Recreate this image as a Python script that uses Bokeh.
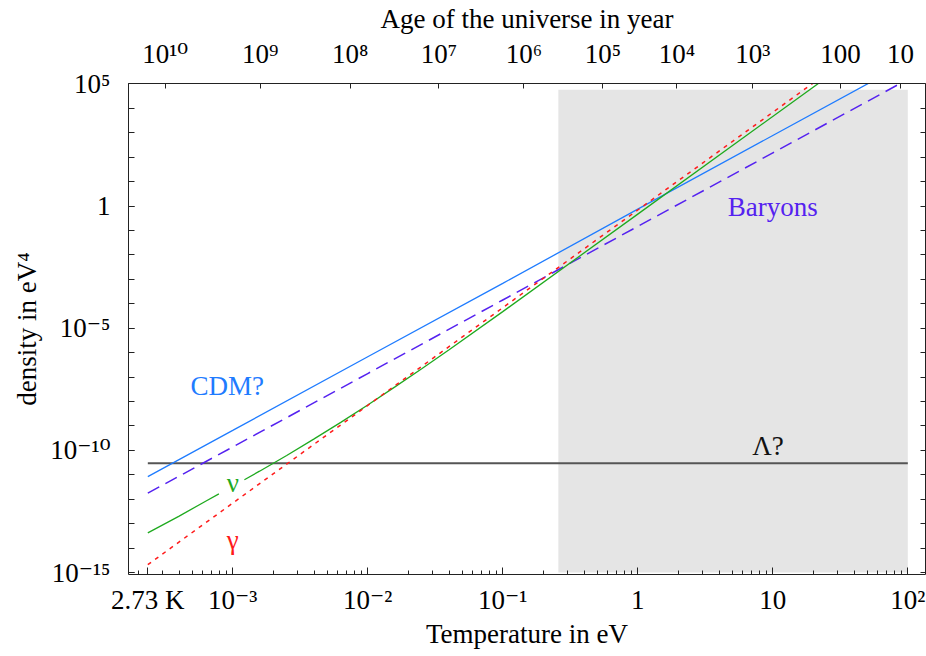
from bokeh.plotting import figure
from bokeh.models import FixedTicker, CustomJSTickFormatter, LogAxis, Range1d
from bokeh.embed import file_html
from bokeh.resources import INLINE
from bokeh.core.properties import value

# ---------------- data ----------------
# temperature in eV, density in eV^4
cdm_T = [2.35e-4, 1e-3, 1e-2, 0.1, 1, 10, 100]
cdm_rho = [8.5e-12, 6.6e-10, 6.8e-7, 6.9e-4, 0.75, 780, 8.0e5]

bar_T = [2.35e-4, 1e-3, 1e-2, 0.1, 1, 10, 100]
bar_rho = [1.78e-12, 1.38e-10, 1.4e-7, 1.44e-4, 0.148, 151, 1.55e5]

gam_T = [2.35e-4, 1e-3, 1e-2, 0.1, 1, 10, 100]
gam_rho = [2.1e-15, 6.95e-13, 6.95e-9, 6.95e-5, 0.695, 6950, 6.95e7]

nu_T = [2.35e-4, 3.98e-4, 6.3e-4, 7.9e-4, float("nan"), 1.22e-3, 1.58e-3, 2.51e-3,
        3.98e-3, 6.31e-3, 0.01, 0.0158, 0.0251, 0.0398, 0.1, 1, 25.1]
nu_rho = [4.2e-14, 2.0e-13, 8.3e-13, 1.66e-12, float("nan"), 6.3e-12, 1.41e-11, 6.2e-11,
          2.9e-10, 1.41e-9, 7.2e-9, 3.9e-8, 2.2e-7, 1.29e-6, 4.8e-5, 0.47, 1.86e5]

lam_T = [2.35e-4, 100]
lam_rho = [2.95e-11, 2.95e-11]

shade_T = [0.258, 100]
shade_rho = [1e-15, 5.8e4]

# tick labels
x_ticks = [2.35e-4, 1e-3, 1e-2, 1e-1, 1, 10, 100]
x_labels = ["2.73 K", "10⁻³", "10⁻²", "10⁻¹", "1", "10", "10²"]
y_ticks = [1e-15, 1e-10, 1e-5, 1, 1e5]
y_labels = ["10⁻¹⁵", "10⁻¹⁰", "10⁻⁵", "1", "10⁵"]
age_T = [3.16e-4, 1.60e-3, 7.40e-3, 3.37e-2, 0.1436, 0.552, 1.95, 7.11, 31.7, 88.1]
age_labels = ["10¹⁰", "10⁹", "10⁸", "10⁷", "10⁶", "10⁵", "10⁴", "10³", "100", "10"]

# curve labels
lab_text = ["CDM?", "Baryons", "Λ?", "ν", "γ"]
lab_T = [9.1e-4, 10.0, 9.2, 1.0e-3, 1.0e-3]
lab_rho = [4.4e-8, 0.93, 1.58e-10, 4.5e-12, 2.1e-14]

# ---------------- styles ----------------
FONT = "Liberation Serif, DejaVu Serif"
C_CDM = "#1f7cff"
C_BAR = "#5522f0"
C_GAM = "#ff1a1a"
C_NU = "#1faa1f"
C_LAM = "#555555"
lab_color = [C_CDM, C_BAR, "#111111", C_NU, C_GAM]

p = figure(width=926, height=656, x_axis_type="log", y_axis_type="log",
           x_range=Range1d(10 ** -3.772, 10 ** 2.131),
           y_range=Range1d(10 ** -15.08, 10 ** 5.02),
           output_backend="svg", toolbar_location=None,
           min_border_left=128, min_border_right=1, min_border_top=81, min_border_bottom=82)
p.grid.visible = False
p.outline_line_color = None
p.background_fill_color = "white"
p.border_fill_color = "white"

p.quad(left=[shade_T[0]], right=[shade_T[1]], bottom=[shade_rho[0]], top=[shade_rho[1]],
       fill_color="#e5e5e5", line_color=None)
p.line(lam_T, lam_rho, line_color=C_LAM, line_width=2)
p.line(cdm_T, cdm_rho, line_color=C_CDM, line_width=1.3)
p.line(bar_T, bar_rho, line_color=C_BAR, line_width=1.5, line_dash="13 7")
p.line(nu_T, nu_rho, line_color=C_NU, line_width=1.3)
p.line(gam_T, gam_rho, line_color=C_GAM, line_width=1.5, line_dash="4 5")

p.text(x=lab_T, y=lab_rho, text=lab_text, text_color=lab_color,
       text_font=value(FONT), text_font_size="27px",
       text_align="center", text_baseline="middle")

code = """
let best = 0;
for (let i = 0; i < vals.length; i++) {
  if (Math.abs(Math.log(vals[i] / tick)) < Math.abs(Math.log(vals[best] / tick))) best = i;
}
return labs[best];
"""


def style_axis(ax, tick_in=6, minor_in=4):
    ax.major_tick_in = tick_in
    ax.major_tick_out = 0
    ax.minor_tick_in = minor_in
    ax.minor_tick_out = 0
    ax.axis_line_color = "#222222"
    ax.major_tick_line_color = "#222222"
    ax.minor_tick_line_color = "#222222"
    ax.major_label_text_font = FONT
    ax.major_label_text_font_size = "27px"
    ax.major_label_text_color = "black"
    ax.axis_label_text_font = FONT
    ax.axis_label_text_font_size = "27px"
    ax.axis_label_text_font_style = "normal"
    ax.axis_label_text_color = "black"


x_minor = [m * 10.0 ** e for e in range(-4, 2) for m in range(2, 10)]
xa = p.xaxis[0]
xa.ticker = FixedTicker(ticks=x_ticks, minor_ticks=x_minor)
xa.formatter = CustomJSTickFormatter(args=dict(vals=x_ticks, labs=x_labels), code=code)
style_axis(xa, 7, 4)
xa.axis_label = "Temperature in eV"
xa.major_label_standoff = 10
xa.axis_label_standoff = 1

y_minor = [10.0 ** e for e in range(-15, 6)]
ya = p.yaxis[0]
ya.ticker = FixedTicker(ticks=y_ticks, minor_ticks=y_minor)
ya.formatter = CustomJSTickFormatter(args=dict(vals=y_ticks, labs=y_labels), code=code)
style_axis(ya, 6, 6)
ya.axis_label = "density in eV⁴"
ya.major_label_standoff = 18
ya.axis_label_standoff = 5

top = LogAxis(ticker=FixedTicker(ticks=age_T),
              formatter=CustomJSTickFormatter(args=dict(vals=age_T, labs=age_labels), code=code))
style_axis(top, 5, 0)
top.axis_label = "Age of the universe in year"
top.major_label_standoff = 15
top.axis_label_standoff = 2
p.add_layout(top, "above")

right = LogAxis(ticker=FixedTicker(ticks=y_minor),
                formatter=CustomJSTickFormatter(code="return ''"))
style_axis(right, 5, 0)
right.major_label_text_font_size = "1px"
right.major_label_standoff = 0
p.add_layout(right, "right")

open("out.html", "w").write(file_html(p, INLINE))
